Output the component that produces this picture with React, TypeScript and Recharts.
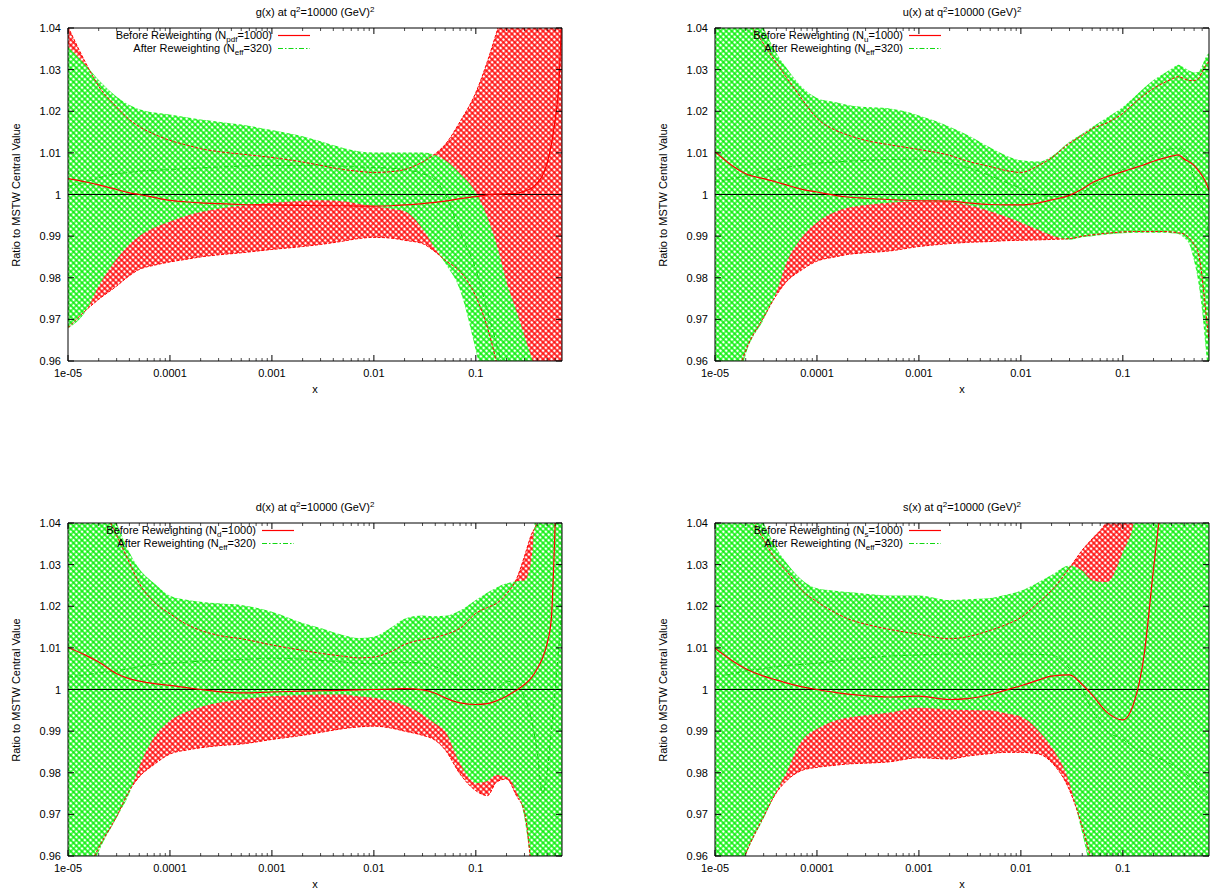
import React from 'react';
import { ComposedChart, Area, Line, XAxis, YAxis, ReferenceLine, Legend } from 'recharts';

const FONT = '"Liberation Sans", Arial, Helvetica, sans-serif';
const RED = '#ff0000';
const GREEN = '#00f000';
const GREEN_LINE = '#11d811';

// Shared x grid (log scale)
const X_VALUES = [
  1e-5, 1.5e-5, 2e-5, 3e-5, 4e-5, 5e-5, 7e-5, 1e-4, 1.5e-4, 2e-4, 3e-4, 5e-4, 1e-3, 2e-3, 3e-3, 5e-3, 7e-3,
  1e-2, 1.5e-2, 2e-2, 3e-2, 4e-2, 5e-2, 7e-2, 0.1, 0.13, 0.16, 0.2, 0.25, 0.3, 0.35, 0.4, 0.45, 0.5, 0.55,
  0.6, 0.65, 0.7,
];
const X_DOMAIN = [1e-5, 0.7];
const Y_DOMAIN = [0.96, 1.04];
const X_MAJOR = [1e-5, 1e-4, 1e-3, 1e-2, 0.1];
const X_MAJOR_LABELS = ['1e-05', '0.0001', '0.001', '0.01', '0.1'];
const X_MINOR = [
  2e-5, 3e-5, 4e-5, 5e-5, 6e-5, 7e-5, 8e-5, 9e-5,
  2e-4, 3e-4, 4e-4, 5e-4, 6e-4, 7e-4, 8e-4, 9e-4,
  2e-3, 3e-3, 4e-3, 5e-3, 6e-3, 7e-3, 8e-3, 9e-3,
  2e-2, 3e-2, 4e-2, 5e-2, 6e-2, 7e-2, 8e-2, 9e-2,
  0.2, 0.3, 0.4, 0.5, 0.6,
];
const X_TICKS = [...X_MAJOR, ...X_MINOR].sort((a, b) => a - b);
const Y_TICKS = [0.96, 0.97, 0.98, 0.99, 1, 1.01, 1.02, 1.03, 1.04];
const Y_TICK_LABELS = ['0.96', '0.97', '0.98', '0.99', '1', '1.01', '1.02', '1.03', '1.04'];

// g(x)
const G_BEFORE_MID = [1.0038, 1.003, 1.0023, 1.0012, 1.0004, 1.0, 0.9993, 0.9986, 0.9982, 0.998, 0.9978, 0.9976, 0.9975, 0.9974, 0.9973, 0.9973, 0.9972, 0.9972, 0.9973, 0.9975, 0.9978, 0.9981, 0.9984, 0.999, 0.9995, 0.9999, 1.0001, 1.0002, 1.0003, 1.0008, 1.0015, 1.0028, 1.0045, 1.0075, 1.012, 1.018, 1.026, 1.045];
const G_BEFORE_HI = [1.0403, 1.0315, 1.026, 1.021, 1.018, 1.0163, 1.0145, 1.013, 1.0118, 1.011, 1.0103, 1.0097, 1.0089, 1.0078, 1.007, 1.006, 1.0056, 1.0053, 1.0055, 1.006, 1.0078, 1.0098, 1.012, 1.0175, 1.0245, 1.032, 1.039, 1.047, 1.056, 1.064, 1.07, 1.075, 1.079, 1.082, 1.085, 1.087, 1.089, 1.09];
const G_BEFORE_LO = [0.968, 0.9722, 0.9748, 0.978, 0.9805, 0.982, 0.983, 0.9838, 0.9845, 0.985, 0.9855, 0.986, 0.9868, 0.9875, 0.988, 0.9888, 0.9894, 0.9897, 0.9895, 0.989, 0.9882, 0.9862, 0.9842, 0.9815, 0.9755, 0.968, 0.9595, 0.948, 0.935, 0.925, 0.918, 0.912, 0.908, 0.905, 0.903, 0.901, 0.9, 0.9];
const G_AFTER_MID = [1.002, 1.003, 1.004, 1.005, 1.0053, 1.0056, 1.0058, 1.006, 1.0062, 1.0064, 1.0066, 1.0068, 1.007, 1.007, 1.007, 1.0068, 1.0066, 1.0065, 1.0063, 1.006, 1.005, 1.0035, 1.0, 0.991, 0.982, 0.972, 0.964, 0.955, 0.946, 0.94, 0.935, 0.93, 0.925, 0.92, 0.915, 0.91, 0.905, 0.9];
const G_AFTER_HI = [1.0355, 1.031, 1.0275, 1.0235, 1.0215, 1.0205, 1.0197, 1.0192, 1.0185, 1.018, 1.0175, 1.0168, 1.0155, 1.014, 1.0128, 1.0112, 1.0104, 1.0101, 1.0101, 1.0101, 1.0101, 1.0095, 1.0082, 1.005, 1.0005, 0.9945, 0.988, 0.979, 0.972, 0.966, 0.961, 0.956, 0.952, 0.948, 0.944, 0.94, 0.937, 0.934];
const G_AFTER_LO = [0.9678, 0.972, 0.978, 0.9845, 0.988, 0.99, 0.992, 0.9935, 0.995, 0.9958, 0.9966, 0.9973, 0.998, 0.9985, 0.9986, 0.9984, 0.9978, 0.9972, 0.9966, 0.996, 0.9918, 0.987, 0.9835, 0.977, 0.9625, 0.95, 0.94, 0.93, 0.92, 0.91, 0.9, 0.9, 0.9, 0.9, 0.9, 0.9, 0.9, 0.9];

// u(x)
const U_BEFORE_MID = [1.0103, 1.0068, 1.005, 1.0038, 1.003, 1.0023, 1.0013, 1.0006, 0.9998, 0.9994, 0.9991, 0.9988, 0.9985, 0.9984, 0.998, 0.9976, 0.9975, 0.9975, 0.998, 0.9987, 0.9998, 1.0013, 1.0028, 1.0043, 1.0055, 1.0064, 1.0071, 1.008, 1.0087, 1.0092, 1.0095, 1.0085, 1.0078, 1.007, 1.0058, 1.0045, 1.003, 1.001];
const U_BEFORE_HI = [1.06, 1.05, 1.043, 1.0362, 1.0316, 1.0282, 1.0232, 1.0183, 1.0155, 1.0143, 1.013, 1.012, 1.0108, 1.0094, 1.008, 1.0067, 1.0058, 1.0053, 1.007, 1.0088, 1.0123, 1.0142, 1.0158, 1.0172, 1.0195, 1.022, 1.0238, 1.0255, 1.0268, 1.0277, 1.0283, 1.0278, 1.0274, 1.0274, 1.0278, 1.0295, 1.031, 1.032];
const U_BEFORE_LO = [0.935, 0.953, 0.9625, 0.9705, 0.9758, 0.979, 0.9818, 0.984, 0.985, 0.9856, 0.986, 0.9864, 0.9875, 0.9882, 0.9885, 0.9887, 0.9889, 0.989, 0.9891, 0.9892, 0.9894, 0.99, 0.9903, 0.9907, 0.991, 0.9911, 0.9911, 0.9911, 0.9911, 0.991, 0.9908, 0.9905, 0.9895, 0.988, 0.986, 0.98, 0.972, 0.965];
const U_AFTER_MID = [1.003, 1.0038, 1.0045, 1.0055, 1.006, 1.0065, 1.007, 1.0075, 1.0078, 1.008, 1.0082, 1.0084, 1.0085, 1.0075, 1.0065, 1.0045, 1.003, 1.0015, 1.0, 0.9995, 0.9995, 1.0005, 1.002, 1.004, 1.006, 1.0075, 1.0085, 1.0095, 1.0103, 1.011, 1.0112, 1.01, 1.0075, 1.004, 1.0, 0.997, 0.994, 0.99];
const U_AFTER_HI = [1.07, 1.06, 1.05, 1.04, 1.034, 1.0305, 1.026, 1.0232, 1.0222, 1.0215, 1.021, 1.0207, 1.019, 1.0163, 1.0143, 1.0113, 1.0095, 1.0082, 1.0079, 1.0092, 1.0127, 1.0146, 1.0162, 1.0185, 1.021, 1.0235, 1.0255, 1.0275, 1.029, 1.0302, 1.0312, 1.0305, 1.0297, 1.0293, 1.0295, 1.031, 1.033, 1.034];
const U_AFTER_LO = [0.93, 0.948, 0.9615, 0.97, 0.9765, 0.9835, 0.9895, 0.9933, 0.9958, 0.9968, 0.9975, 0.998, 0.9984, 0.9982, 0.9975, 0.996, 0.9948, 0.9933, 0.9915, 0.9902, 0.9891, 0.9897, 0.99, 0.9904, 0.9907, 0.9908, 0.9908, 0.9908, 0.9908, 0.9907, 0.9905, 0.9895, 0.988, 0.984, 0.979, 0.972, 0.963, 0.955];

// d(x)
const D_BEFORE_MID = [1.0101, 1.0082, 1.0066, 1.0038, 1.0026, 1.002, 1.0014, 1.001, 1.0004, 1.0, 0.9995, 0.9992, 0.9994, 0.9996, 0.9997, 0.9998, 0.9999, 1.0, 1.0001, 1.0002, 0.9999, 0.9991, 0.998, 0.9968, 0.9964, 0.9966, 0.9973, 0.9984, 0.9998, 1.0012, 1.0028, 1.005, 1.0075, 1.011, 1.017, 1.04, 1.07, 1.1];
const D_BEFORE_HI = [1.065, 1.053, 1.046, 1.037, 1.0305, 1.0255, 1.021, 1.0182, 1.0155, 1.0142, 1.013, 1.0122, 1.0107, 1.0094, 1.0087, 1.008, 1.0076, 1.0078, 1.0092, 1.0108, 1.012, 1.0125, 1.0132, 1.0147, 1.0183, 1.0197, 1.0207, 1.023, 1.0265, 1.032, 1.0372, 1.0405, 1.05, 1.06, 1.07, 1.08, 1.085, 1.09];
const D_BEFORE_LO = [0.945, 0.9555, 0.962, 0.9695, 0.9757, 0.979, 0.982, 0.9845, 0.9855, 0.986, 0.9865, 0.9869, 0.988, 0.989, 0.9897, 0.9906, 0.991, 0.9912, 0.9907, 0.99, 0.989, 0.9878, 0.9855, 0.9797, 0.9757, 0.9745, 0.9778, 0.9785, 0.9745, 0.9705, 0.956, 0.93, 0.91, 0.9, 0.89, 0.88, 0.87, 0.86];
const D_AFTER_MID = [1.003, 1.0035, 1.004, 1.0045, 1.005, 1.0055, 1.006, 1.0063, 1.0066, 1.0068, 1.007, 1.0072, 1.0075, 1.0073, 1.007, 1.0066, 1.0063, 1.0062, 1.0064, 1.0065, 1.0063, 1.0055, 1.0045, 1.003, 1.0, 0.999, 1.0, 1.002, 1.001, 0.998, 0.993, 0.985, 0.975, 0.98, 0.99, 1.0, 1.01, 1.02];
const D_AFTER_HI = [1.07, 1.06, 1.05, 1.04, 1.033, 1.029, 1.0255, 1.0225, 1.0215, 1.0211, 1.0207, 1.0203, 1.0187, 1.016, 1.0148, 1.0131, 1.0124, 1.0127, 1.015, 1.017, 1.0178, 1.0176, 1.0177, 1.019, 1.0215, 1.0233, 1.0245, 1.0255, 1.026, 1.0262, 1.031, 1.05, 1.07, 1.08, 1.09, 1.1, 1.1, 1.1];
const D_AFTER_LO = [0.94, 0.953, 0.961, 0.9692, 0.975, 0.9815, 0.9885, 0.9925, 0.9948, 0.9958, 0.9968, 0.9976, 0.9984, 0.9987, 0.9988, 0.9988, 0.9984, 0.998, 0.9972, 0.9962, 0.994, 0.9918, 0.99, 0.9822, 0.9775, 0.978, 0.9795, 0.979, 0.9755, 0.969, 0.955, 0.93, 0.91, 0.9, 0.89, 0.88, 0.87, 0.86];

// s(x)
const S_BEFORE_MID = [1.0099, 1.0068, 1.005, 1.0032, 1.0023, 1.0016, 1.0007, 1.0, 0.9993, 0.9989, 0.9985, 0.9982, 0.9984, 0.9976, 0.9978, 0.9988, 0.9998, 1.0009, 1.0023, 1.0032, 1.0035, 1.0012, 0.9987, 0.9945, 0.9927, 0.9972, 1.0075, 1.029, 1.05, 1.07, 1.09, 1.1, 1.1, 1.1, 1.1, 1.1, 1.1, 1.1];
const S_BEFORE_HI = [1.06, 1.05, 1.044, 1.036, 1.031, 1.0285, 1.024, 1.0211, 1.0185, 1.017, 1.0157, 1.0145, 1.0133, 1.0122, 1.0127, 1.0142, 1.0155, 1.0173, 1.021, 1.0238, 1.0292, 1.0335, 1.0362, 1.0405, 1.05, 1.06, 1.07, 1.08, 1.09, 1.1, 1.1, 1.1, 1.1, 1.1, 1.1, 1.1, 1.1, 1.1];
const S_BEFORE_LO = [0.94, 0.952, 0.9605, 0.9695, 0.9752, 0.978, 0.9805, 0.9813, 0.9818, 0.9821, 0.9823, 0.9826, 0.9836, 0.9833, 0.984, 0.9846, 0.9849, 0.9849, 0.9845, 0.9825, 0.9758, 0.967, 0.958, 0.94, 0.92, 0.9, 0.9, 0.9, 0.9, 0.9, 0.9, 0.9, 0.9, 0.9, 0.9, 0.9, 0.9, 0.9];
const S_AFTER_MID = [1.003, 1.0038, 1.0045, 1.005, 1.0055, 1.0058, 1.006, 1.0063, 1.0068, 1.0072, 1.0076, 1.008, 1.0083, 1.0085, 1.0085, 1.0085, 1.0085, 1.0085, 1.0084, 1.0083, 1.005, 1.0, 0.995, 0.99, 0.988, 0.986, 0.985, 0.984, 0.983, 0.982, 0.981, 0.98, 0.979, 0.978, 0.977, 0.976, 0.975, 0.974];
const S_AFTER_HI = [1.07, 1.06, 1.05, 1.04, 1.034, 1.0305, 1.0265, 1.0243, 1.0237, 1.0234, 1.023, 1.0226, 1.0226, 1.0215, 1.0217, 1.022, 1.0227, 1.0237, 1.0258, 1.0275, 1.0298, 1.0285, 1.0262, 1.0258, 1.033, 1.041, 1.06, 1.07, 1.08, 1.09, 1.1, 1.1, 1.1, 1.1, 1.1, 1.1, 1.1, 1.1];
const S_AFTER_LO = [0.935, 0.95, 0.96, 0.969, 0.9755, 0.98, 0.9875, 0.9905, 0.9925, 0.9932, 0.9938, 0.9944, 0.9956, 0.9952, 0.9951, 0.995, 0.9943, 0.9935, 0.99, 0.9862, 0.9775, 0.9654, 0.955, 0.94, 0.92, 0.9, 0.9, 0.9, 0.9, 0.9, 0.9, 0.9, 0.9, 0.9, 0.9, 0.9, 0.9, 0.9];

// Plot-area geometry inside each chart
const PLOT_LEFT = 68;
const PLOT_TOP = 28;
const PLOT_W = 494;
const PLOT_H = 333;
const HATCH = 4;
const HATCH_W = 1.3;

const SUP: React.CSSProperties = { fontSize: 8, position: 'relative', top: -4, verticalAlign: 'baseline', lineHeight: 0 };
const SUB: React.CSSProperties = { fontSize: 8, position: 'relative', top: 3, verticalAlign: 'baseline', lineHeight: 0 };

function BottomTick(props: any) {
  const { x, y, payload } = props;
  const idx = X_MAJOR.indexOf(payload.value);
  const major = idx >= 0;
  return (
    <g>
      <line x1={x} x2={x} y1={y} y2={y - (major ? 6 : 3)} stroke="#000" strokeWidth={major ? 1 : 0.7} />
      {major && (
        <text x={x} y={y + 16} textAnchor="middle" fontSize={11} fontFamily={FONT} fill="#000">
          {X_MAJOR_LABELS[idx]}
        </text>
      )}
    </g>
  );
}

function TopTick(props: any) {
  const { x, y, payload } = props;
  const major = X_MAJOR.indexOf(payload.value) >= 0;
  return <line x1={x} x2={x} y1={y} y2={y + (major ? 6 : 3)} stroke="#000" strokeWidth={major ? 1 : 0.7} />;
}

function LeftTick(props: any) {
  const { x, y, payload } = props;
  const idx = Y_TICKS.indexOf(payload.value);
  return (
    <g>
      <line x1={x} x2={x + 6} y1={y} y2={y} stroke="#000" strokeWidth={1} />
      <text x={x - 7} y={y + 4} textAnchor="end" fontSize={11} fontFamily={FONT} fill="#000">
        {Y_TICK_LABELS[idx]}
      </text>
    </g>
  );
}

function RightTick(props: any) {
  const { x, y } = props;
  return <line x1={x} x2={x - 6} y1={y} y2={y} stroke="#000" strokeWidth={1} />;
}

function KeyBox({ sub }: { sub: string }) {
  const row: React.CSSProperties = { display: 'flex', alignItems: 'center', height: 13 };
  const txt: React.CSSProperties = { width: 162, textAlign: 'right', whiteSpace: 'nowrap' };
  return (
    <div style={{ fontFamily: FONT, fontSize: 11, color: '#000', lineHeight: '13px' }}>
      <div style={row}>
        <span style={txt}>
          Before Reweighting (N<span style={SUB}>{sub}</span>=1000)
        </span>
        <svg width={40} height={13}>
          <line x1={6} x2={38} y1={6.5} y2={6.5} stroke={RED} strokeWidth={1.2} />
        </svg>
      </div>
      <div style={row}>
        <span style={txt}>
          After Reweighting (N<span style={SUB}>eff</span>=320)
        </span>
        <svg width={40} height={13}>
          <line x1={6} x2={38} y1={6.5} y2={6.5} stroke={GREEN_LINE} strokeWidth={1} strokeDasharray="5 2 1.5 2" />
        </svg>
      </div>
    </div>
  );
}

type PanelProps = {
  id: string;
  left: number;
  top: number;
  width: number;
  fn: string;
  sub: string;
  keyRight: number;
  bMid: number[];
  bHi: number[];
  bLo: number[];
  aMid: number[];
  aHi: number[];
  aLo: number[];
};

function Panel(p: PanelProps) {
  const rows = X_VALUES.map((x, i) => ({
    x,
    bMid: p.bMid[i],
    bHi: p.bHi[i],
    bLo: p.bLo[i],
    aMid: p.aMid[i],
    aHi: p.aHi[i],
    aLo: p.aLo[i],
  }));
  const height = 400;
  // each axis is 1px thick, so the margins leave room for it
  const margin = {
    top: PLOT_TOP - 1,
    left: PLOT_LEFT - 1,
    right: p.width - PLOT_LEFT - PLOT_W - 1,
    bottom: height - PLOT_TOP - PLOT_H - 1,
  };
  const redId = `hatch-red-${p.id}`;
  const greenId = `hatch-green-${p.id}`;
  const hatchPath = `M0 ${HATCH / 2}H${HATCH}M${HATCH / 2} 0V${HATCH}`;
  const textStyle: React.CSSProperties = { position: 'absolute', fontFamily: FONT, fontSize: 11, color: '#000', lineHeight: '14px', whiteSpace: 'nowrap' };

  return (
    <div style={{ position: 'absolute', left: p.left, top: p.top, width: p.width, height }}>
      <ComposedChart width={p.width} height={height} data={rows} margin={margin}>
        <defs>
          <pattern id={redId} patternUnits="userSpaceOnUse" width={HATCH} height={HATCH} patternTransform="rotate(45)">
            <path d={hatchPath} stroke={RED} strokeWidth={HATCH_W} />
          </pattern>
          <pattern id={greenId} patternUnits="userSpaceOnUse" width={HATCH} height={HATCH} patternTransform="rotate(45)">
            <rect width={HATCH} height={HATCH} fill="#fff" />
            <path d={hatchPath} stroke={GREEN} strokeWidth={HATCH_W} />
          </pattern>
        </defs>
        <XAxis
          xAxisId="b"
          dataKey="x"
          type="number"
          scale="log"
          domain={X_DOMAIN}
          allowDataOverflow
          ticks={X_TICKS}
          interval={0}
          height={1}
          tickSize={0}
          tickMargin={0}
          tickLine={false}
          tick={BottomTick}
          axisLine={{ stroke: '#000', strokeWidth: 1 }}
        />
        <XAxis
          xAxisId="t"
          orientation="top"
          dataKey="x"
          type="number"
          scale="log"
          domain={X_DOMAIN}
          allowDataOverflow
          ticks={X_TICKS}
          interval={0}
          height={1}
          tickSize={0}
          tickMargin={0}
          tickLine={false}
          tick={TopTick}
          axisLine={{ stroke: '#000', strokeWidth: 1 }}
        />
        <YAxis
          yAxisId="l"
          type="number"
          domain={Y_DOMAIN}
          allowDataOverflow
          ticks={Y_TICKS}
          interval={0}
          width={1}
          tickSize={0}
          tickMargin={0}
          tickLine={false}
          tick={LeftTick}
          axisLine={{ stroke: '#000', strokeWidth: 1 }}
        />
        <YAxis
          yAxisId="r"
          orientation="right"
          type="number"
          domain={Y_DOMAIN}
          allowDataOverflow
          ticks={Y_TICKS}
          interval={0}
          width={1}
          tickSize={0}
          tickMargin={0}
          tickLine={false}
          tick={RightTick}
          axisLine={{ stroke: '#000', strokeWidth: 1 }}
        />
        <Area
          xAxisId="b"
          yAxisId="l"
          type="monotone"
          dataKey={(d: any) => [d.bLo, d.bHi]}
          stroke="none"
          fill={`url(#${redId})`}
          fillOpacity={1}
          isAnimationActive={false}
        />
        <Area
          xAxisId="b"
          yAxisId="l"
          type="monotone"
          dataKey={(d: any) => [d.aLo, d.aHi]}
          stroke="none"
          fill={`url(#${greenId})`}
          fillOpacity={1}
          isAnimationActive={false}
        />
        <ReferenceLine xAxisId="b" yAxisId="l" y={1} stroke="#000" strokeWidth={1} />
        <Line
          xAxisId="t"
          yAxisId="r"
          type="monotone"
          dataKey="aMid"
          stroke={GREEN_LINE}
          strokeWidth={1}
          strokeDasharray="5 2 1.5 2"
          dot={false}
          isAnimationActive={false}
        />
        <Line xAxisId="b" yAxisId="l" type="monotone" dataKey="bHi" stroke={RED} strokeWidth={1} strokeDasharray="3 1.5" dot={false} isAnimationActive={false} />
        <Line xAxisId="b" yAxisId="l" type="monotone" dataKey="bLo" stroke={RED} strokeWidth={1} strokeDasharray="3 1.5" dot={false} isAnimationActive={false} />
        <Line xAxisId="b" yAxisId="l" type="monotone" dataKey="bMid" stroke={RED} strokeWidth={1.2} dot={false} isAnimationActive={false} />
        <Legend
          layout="horizontal"
          verticalAlign="middle"
          align="center"
          content={() => <KeyBox sub={p.sub} />}
          wrapperStyle={{ left: p.keyRight - 162, top: PLOT_TOP + 1, width: 210, height: 26 }}
        />
      </ComposedChart>
      <div style={{ ...textStyle, left: PLOT_LEFT, width: PLOT_W, top: 5, textAlign: 'center' }}>
        {p.fn}(x) at q<span style={SUP}>2</span>=10000 (GeV)<span style={SUP}>2</span>
      </div>
      <div style={{ ...textStyle, left: PLOT_LEFT, width: PLOT_W, top: PLOT_TOP + PLOT_H + 21, textAlign: 'center' }}>x</div>
      <div
        style={{
          ...textStyle,
          left: 16,
          top: PLOT_TOP + PLOT_H / 2,
          transform: 'translate(-50%, -50%) rotate(-90deg)',
        }}
      >
        Ratio to MSTW Central Value
      </div>
    </div>
  );
}

export default function App() {
  return (
    <div style={{ position: 'absolute', left: 0, top: 0, width: 1210, height: 895, background: '#fff', overflow: 'hidden' }}>
      <Panel id="g" left={0} top={0} width={600} fn="g" sub="pdf" keyRight={PLOT_LEFT + 204}
        bMid={G_BEFORE_MID} bHi={G_BEFORE_HI} bLo={G_BEFORE_LO} aMid={G_AFTER_MID} aHi={G_AFTER_HI} aLo={G_AFTER_LO} />
      <Panel id="u" left={647} top={0} width={563} fn="u" sub="u" keyRight={PLOT_LEFT + 188}
        bMid={U_BEFORE_MID} bHi={U_BEFORE_HI} bLo={U_BEFORE_LO} aMid={U_AFTER_MID} aHi={U_AFTER_HI} aLo={U_AFTER_LO} />
      <Panel id="d" left={0} top={495} width={600} fn="d" sub="d" keyRight={PLOT_LEFT + 188}
        bMid={D_BEFORE_MID} bHi={D_BEFORE_HI} bLo={D_BEFORE_LO} aMid={D_AFTER_MID} aHi={D_AFTER_HI} aLo={D_AFTER_LO} />
      <Panel id="s" left={647} top={495} width={563} fn="s" sub="s" keyRight={PLOT_LEFT + 188}
        bMid={S_BEFORE_MID} bHi={S_BEFORE_HI} bLo={S_BEFORE_LO} aMid={S_AFTER_MID} aHi={S_AFTER_HI} aLo={S_AFTER_LO} />
    </div>
  );
}
